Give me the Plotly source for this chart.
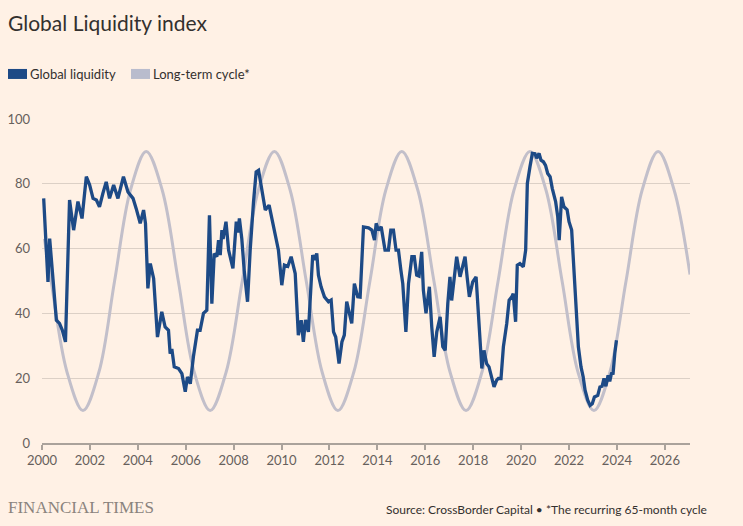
import plotly.graph_objects as go

# Global liquidity index (decimal years)
liquidity_x = [
    2000.07, 2000.25, 2000.32, 2000.53, 2000.60, 2000.73, 2000.85, 2000.98, 2001.15, 2001.32,
    2001.50, 2001.67, 2001.85, 2001.99, 2002.13, 2002.27, 2002.40, 2002.54, 2002.68, 2002.82,
    2002.99, 2003.17, 2003.40, 2003.59, 2003.80, 2003.93, 2004.10, 2004.24, 2004.32, 2004.42,
    2004.52, 2004.66, 2004.82, 2005.00, 2005.14, 2005.28, 2005.35, 2005.42, 2005.52, 2005.70,
    2005.84, 2005.98, 2006.07, 2006.19, 2006.32, 2006.49, 2006.60, 2006.74, 2006.88, 2006.99,
    2007.09, 2007.19, 2007.30, 2007.37, 2007.44, 2007.51, 2007.56, 2007.68, 2007.79, 2007.97,
    2008.11, 2008.18, 2008.24, 2008.34, 2008.44, 2008.58, 2008.69, 2008.83, 2008.94, 2009.04,
    2009.18, 2009.32, 2009.48, 2009.60, 2009.73, 2009.87, 2010.01, 2010.12, 2010.26, 2010.40,
    2010.57, 2010.70, 2010.82, 2010.91, 2011.00, 2011.12, 2011.30, 2011.37, 2011.47, 2011.54,
    2011.65, 2011.79, 2011.96, 2012.07, 2012.17, 2012.26, 2012.40, 2012.52, 2012.62, 2012.72,
    2012.80, 2012.93, 2013.04, 2013.18, 2013.28, 2013.42, 2013.63, 2013.77, 2013.88, 2013.95,
    2014.04, 2014.16, 2014.32, 2014.46, 2014.56, 2014.67, 2014.78, 2014.88, 2014.98, 2015.06,
    2015.19, 2015.30, 2015.44, 2015.54, 2015.64, 2015.74, 2015.85, 2015.92, 2016.03, 2016.17,
    2016.27, 2016.37, 2016.48, 2016.62, 2016.73, 2016.83, 2016.94, 2017.03, 2017.10, 2017.20,
    2017.31, 2017.45, 2017.55, 2017.66, 2017.75, 2017.84, 2017.98, 2018.12, 2018.26, 2018.36,
    2018.45, 2018.56, 2018.66, 2018.77, 2018.87, 2018.98, 2019.05, 2019.16, 2019.26, 2019.40,
    2019.50, 2019.61, 2019.67, 2019.77, 2019.84, 2019.95, 2020.09, 2020.19, 2020.26, 2020.37,
    2020.47, 2020.58, 2020.65, 2020.75, 2020.83, 2020.93, 2021.02, 2021.11, 2021.21, 2021.30,
    2021.44, 2021.53, 2021.59, 2021.69, 2021.79, 2021.92, 2022.00, 2022.11, 2022.20, 2022.29,
    2022.39, 2022.50, 2022.59, 2022.67, 2022.78, 2022.88, 2022.97, 2023.06, 2023.20, 2023.29,
    2023.38, 2023.46, 2023.54, 2023.63, 2023.70, 2023.77, 2023.84, 2023.91, 2023.98,
]
liquidity_y = [
    75.5, 49.7, 63.1, 44.0, 37.9, 36.9, 34.8, 31.2, 75.0, 65.7,
    74.5, 69.3, 82.2, 79.6, 75.5, 75.0, 72.9, 77.0, 80.6, 75.5,
    79.6, 75.5, 82.2, 77.5, 75.5, 72.4, 67.8, 71.9, 67.8, 47.7,
    55.4, 50.8, 32.7, 40.5, 35.8, 34.8, 27.6, 29.0, 23.5, 23.0,
    21.4, 15.8, 20.4, 18.3, 26.6, 34.8, 34.8, 40.0, 41.0, 70.3,
    43.0, 58.5, 57.5, 62.6, 58.0, 65.7, 63.0, 68.3, 59.5, 53.9,
    68.3, 65.0, 69.3, 63.1, 53.3, 43.6, 59.5, 74.5, 83.7, 84.2,
    78.1, 71.9, 73.4, 69.3, 64.2, 59.5, 48.7, 54.9, 54.5, 57.5,
    52.3, 33.3, 37.9, 31.2, 38.0, 34.3, 58.0, 56.5, 58.5, 51.8,
    48.2, 45.1, 43.6, 44.1, 34.3, 32.7, 24.5, 31.2, 33.3, 43.6,
    41.0, 36.9, 49.2, 45.1, 45.0, 66.7, 66.4, 65.7, 62.6, 67.8,
    65.7, 66.7, 59.5, 59.5, 65.7, 65.7, 59.5, 59.5, 53.4, 49.2,
    34.3, 49.2, 57.5, 57.5, 51.8, 51.5, 59.0, 47.2, 40.0, 48.2,
    35.8, 26.6, 34.3, 38.9, 29.7, 28.6, 43.1, 51.3, 44.0, 50.3,
    57.5, 51.3, 54.0, 57.5, 51.0, 45.1, 49.7, 51.3, 34.8, 23.0,
    28.6, 24.5, 23.5, 20.4, 17.3, 19.4, 19.9, 19.9, 29.7, 36.9,
    44.1, 45.1, 46.1, 37.4, 54.9, 55.4, 54.4, 59.5, 80.1, 85.3,
    89.4, 89.3, 87.9, 89.4, 87.3, 86.8, 85.7, 83.2, 82.2, 78.6,
    74.5, 69.8, 62.6, 76.0, 72.9, 72.0, 68.3, 65.7, 54.4, 42.0,
    29.7, 23.5, 20.4, 16.3, 13.2, 11.6, 12.1, 14.2, 14.7, 17.3,
    17.5, 19.9, 17.5, 20.9, 19.0, 21.4, 21.5, 27.6, 31.7,
]

# Long-term (65-month) cycle, read at peaks, troughs and in between
cycle_x = [
    2000.10, 2000.38, 2001.04, 2001.71, 2002.38, 2003.03, 2003.69, 2004.35, 2005.02, 2005.69,
    2006.35, 2007.02, 2007.69, 2008.36, 2009.03, 2009.70, 2010.36, 2011.03, 2011.69, 2012.35,
    2013.02, 2013.69, 2014.35, 2015.02, 2015.69, 2016.36, 2017.03, 2017.70, 2018.37, 2019.04,
    2019.70, 2020.37, 2021.04, 2021.71, 2022.37, 2023.04, 2023.71, 2024.38, 2025.05, 2025.72,
    2026.39, 2027.05,
]
cycle_y = [
    63, 50, 22, 10, 22, 50, 78, 90, 78, 50,
    22, 10, 22, 50, 78, 90, 78, 50, 22, 10,
    22, 50, 78, 90, 78, 50, 22, 10, 22, 50,
    78, 90, 78, 50, 22, 10, 22, 50, 78, 90,
    78, 52,
]

year_ticks = list(range(2000, 2027, 2))
value_ticks = [0, 20, 40, 60, 80, 100]

BG = '#FFF1E5'
BLUE = '#1d4a86'
GREY = '#c2bfca'
TEXT = '#33302e'
MUTED = '#66605c'

# plot area in pixels: left 42, right 690, top 119, bottom 442.7
PW, PH = 648.0, 323.7


def px_x(x):
    return (x - 42) / PW


def px_y(y):
    return (442.7 - y) / PH


fig = go.Figure()

fig.add_trace(go.Scatter(
    x=cycle_x, y=cycle_y, mode='lines', name='Long-term cycle*',
    line=dict(color=GREY, width=3, shape='spline', smoothing=1.0),
    hoverinfo='skip'
))
fig.add_trace(go.Scatter(
    x=liquidity_x, y=liquidity_y, mode='lines', name='Global liquidity',
    line=dict(color=BLUE, width=3.3)
))

fig.update_layout(
    width=743, height=526,
    paper_bgcolor=BG, plot_bgcolor=BG,
    margin=dict(l=42, r=53, t=119, b=83),
    showlegend=False,
    font=dict(family='Lato, Noto Sans, sans-serif', color=MUTED, size=13),
)

fig.update_xaxes(
    range=[2000, 2027.05], automargin=False,
    tickmode='array', tickvals=year_ticks, ticktext=[str(y) for y in year_ticks],
    showgrid=False, zeroline=False,
    showline=True, linecolor='#aaa29b', linewidth=1.5,
    ticks='outside', ticklen=5, tickcolor='#aaa29b', tickwidth=1.5,
    tickfont=dict(size=13, color=MUTED),
)
fig.update_yaxes(
    range=[0, 100], automargin=False,
    tickmode='array', tickvals=value_ticks,
    showgrid=True, gridcolor='#dcd0c6', gridwidth=1,
    zeroline=False, showline=False, ticks='',
    ticklabelstandoff=11,
    tickfont=dict(size=13, color=MUTED),
)

# Title
fig.add_annotation(
    text='Global Liquidity index', xref='paper', yref='paper',
    x=px_x(6), y=px_y(23), xanchor='left', yanchor='middle',
    showarrow=False, font=dict(size=21, color=TEXT, family='Lato, Noto Sans, sans-serif')
)

# Legend (swatches + labels)
legend_items = [('Global liquidity', BLUE, 8), ('Long-term cycle*', '#b9bccd', 131)]
for label, colour, left in legend_items:
    fig.add_shape(
        type='rect', xref='paper', yref='paper',
        x0=px_x(left), x1=px_x(left + 19), y0=px_y(79), y1=px_y(69),
        fillcolor=colour, line=dict(width=0)
    )
    fig.add_annotation(
        text=label, xref='paper', yref='paper',
        x=px_x(left + 20), y=px_y(74),
        xanchor='left', yanchor='middle', showarrow=False,
        font=dict(size=13, color=TEXT)
    )

# Footer
fig.add_annotation(
    text='FINANCIAL TIMES', xref='paper', yref='paper',
    x=px_x(6), y=px_y(507), xanchor='left', yanchor='middle',
    showarrow=False, font=dict(size=17, color='#8a837d', family='Liberation Serif, DejaVu Serif, serif')
)
fig.add_annotation(
    text='Source: CrossBorder Capital \u2022 *The recurring 65-month cycle', xref='paper', yref='paper',
    x=px_x(709), y=px_y(509), xanchor='right', yanchor='middle',
    showarrow=False, font=dict(size=12, color=TEXT)
)

fig.write_html(
    "out.html",
    config={'displayModeBar': False},
    post_script="document.body.style.margin='0';document.body.style.background='%s';" % BG
)
